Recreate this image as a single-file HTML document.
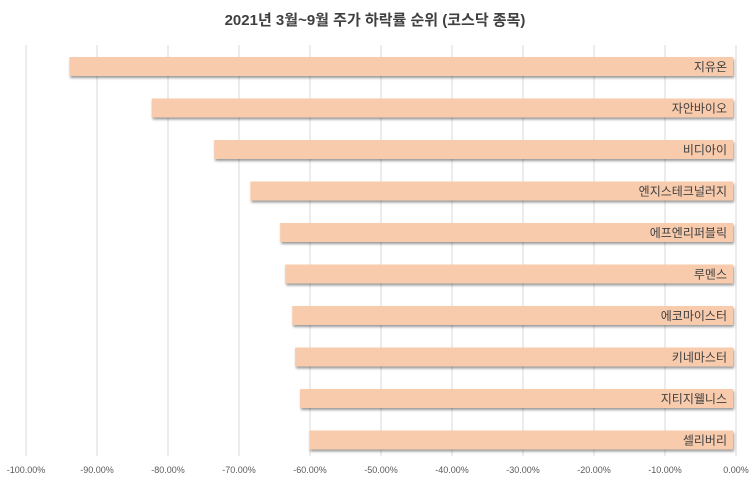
<!DOCTYPE html>
<html><head><meta charset="utf-8"><style>
body{margin:0;background:#fff;font-family:"Liberation Sans","Noto Sans CJK KR",sans-serif;}
</style></head><body>
<svg width="750" height="481" xmlns="http://www.w3.org/2000/svg">
<defs><filter id="sh" x="-5%" y="-20%" width="110%" height="160%"><feDropShadow dx="1" dy="2" stdDeviation="1.2" flood-color="#000" flood-opacity="0.4"/></filter></defs>
<text x="375" y="25" text-anchor="middle" font-size="15" font-weight="bold" fill="#404040" font-family="Liberation Sans, Noto Sans CJK KR, sans-serif">2021년 3월~9월 주가 하락률 순위 (코스닥 종목)</text>
<g id="grid"></g><g id="bars"></g><g id="ticks"></g>
</svg>
<script>
const categories=["지유온","자안바이오","비디아이","엔지스테크널러지","에프엔리퍼블릭","루멘스","에코마이스터","키네마스터","지티지웰니스","셀리버리"];
const values=[-93.9,-82.3,-73.5,-68.4,-64.2,-63.5,-62.5,-62.1,-61.4,-60.1];
const tickValues=[-100,-90,-80,-70,-60,-50,-40,-30,-20,-10,0];
const tickLabels=["-100.00%","-90.00%","-80.00%","-70.00%","-60.00%","-50.00%","-40.00%","-30.00%","-20.00%","-10.00%","0.00%"];
const NS="http://www.w3.org/2000/svg";
const x=v=>736+v*7.1;
const y=i=>46+i*41.5;
function mk(t,a,p){const e=document.createElementNS(NS,t);for(const k in a)e.setAttribute(k,a[k]);p.appendChild(e);return e;}
const g=document.getElementById('grid'),b=document.getElementById('bars'),tk=document.getElementById('ticks');
tickValues.forEach((v,i)=>{
 const l=mk('line',{x1:x(v),x2:x(v),y1:45,y2:456,stroke:'#d9d9d9','stroke-width':1},g);
 
 
 const t=mk('text',{x:x(v),y:473,'text-anchor':'middle','font-size':9,fill:'#595959'},tk);
 t.textContent=tickLabels[i];
 
 
});
categories.forEach((c,i)=>{
 const x0=x(values[i]),x1=x(0)-3,yy=y(i)+11;
 const r=mk('rect',{x:x0,y:yy,width:x1-x0,height:19,fill:'#f8cbad',filter:'url(#sh)'},b);
 
 
 const t=mk('text',{x:x1-6,y:yy+14,'text-anchor':'end','font-size':12,fill:'#404040'},b);
 t.textContent=c;
 
 
});
</script>
</body></html>
